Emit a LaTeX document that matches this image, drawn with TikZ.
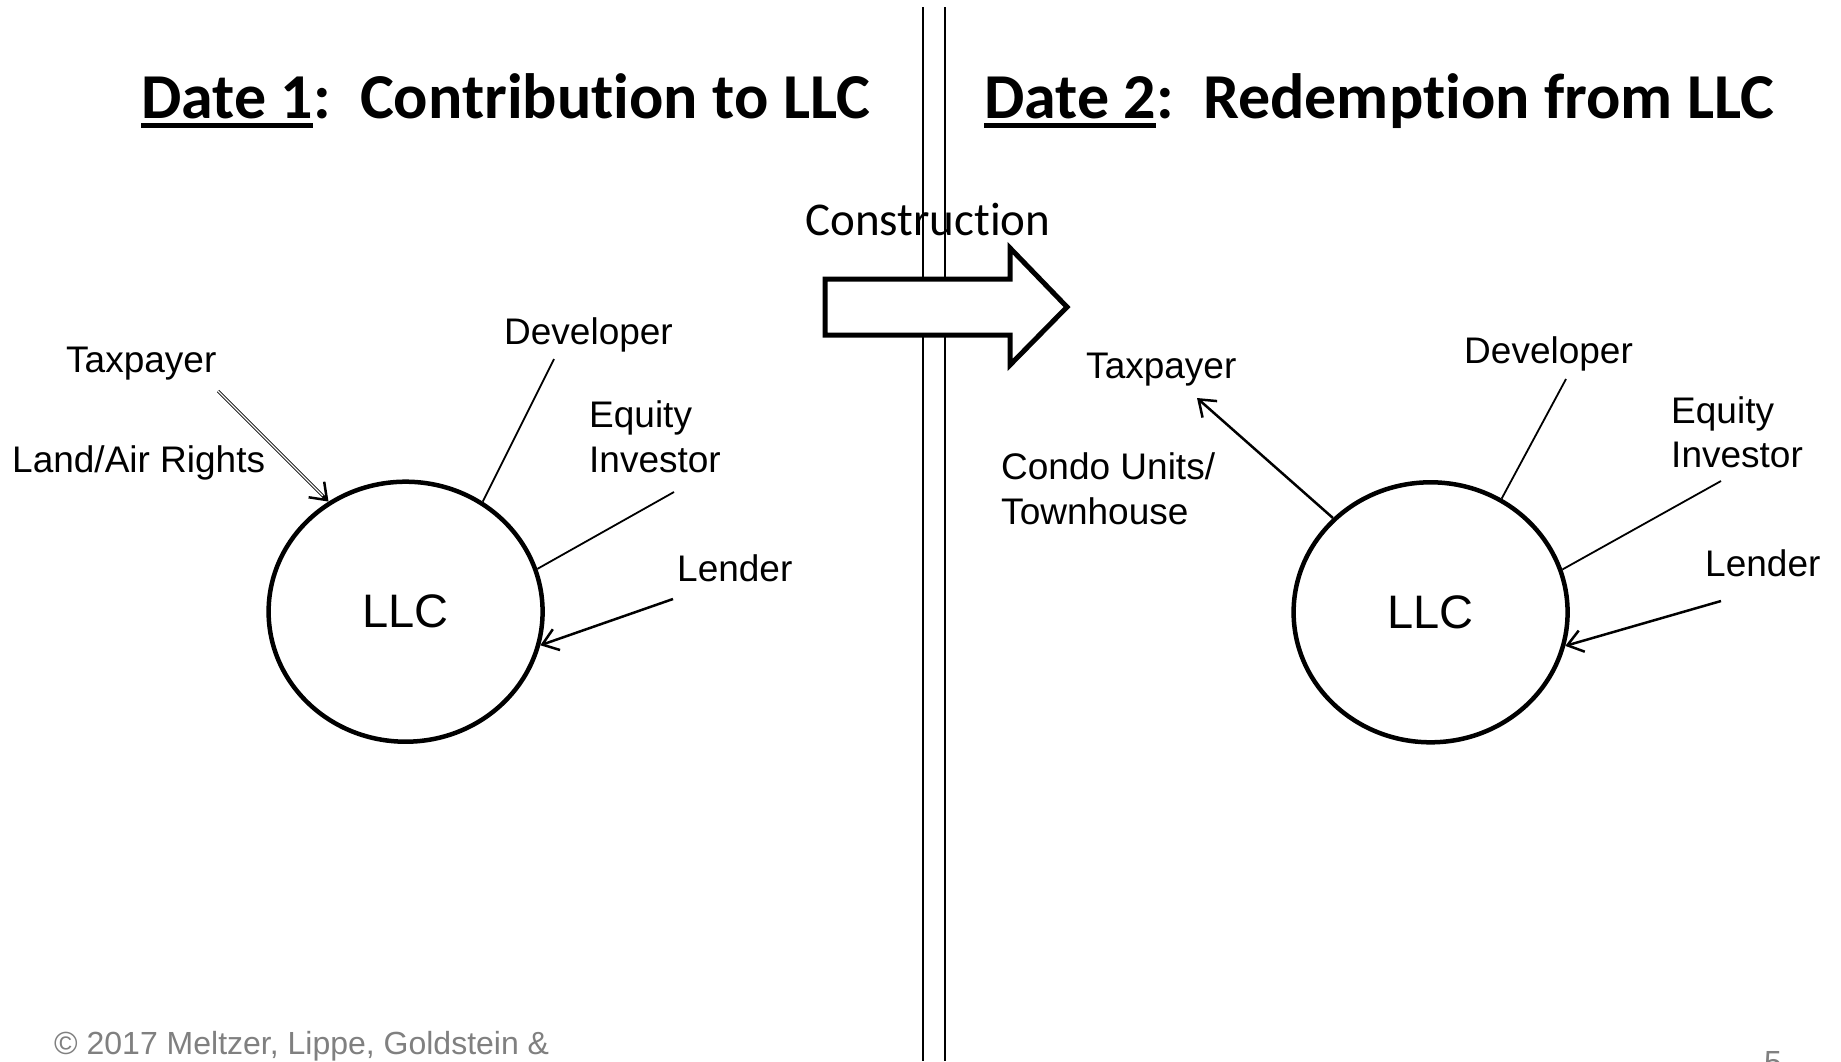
\documentclass[tikz,border=0pt]{standalone}
\usepackage{fontspec}
\setmainfont{Liberation Sans}
\newfontfamily\calfont[Ligatures={NoCommon,NoContextual}]{Carlito}
\usetikzlibrary{shapes.geometric,arrows.meta,calc}
\definecolor{footgray}{RGB}{128,128,128}
\tikzset{
  lbl/.style={anchor=base west, inner sep=0, font=\fontsize{37}{44}\selectfont},
  ttl/.style={anchor=base west, inner sep=0, font=\calfont\bfseries\fontsize{64}{77}\selectfont},
  llc/.style={draw, ellipse, line width=4.5, minimum width=274, minimum height=260, inner sep=0, font=\fontsize{47}{56}\selectfont},
  conn/.style={line width=1.8},
  arr/.style={line width=2.5, -{Straight Barb[length=15pt,width=22pt]}},
  foot/.style={anchor=base west, inner sep=0, text=footgray, font=\fontsize{32}{38}\selectfont},
}
\begin{document}
\begin{tikzpicture}[x=1pt,y=-1pt]
\useasboundingbox (0,0) rectangle (1841,1061);
\clip (0,0) rectangle (1841,1061);
\fill[white] (0,0) rectangle (1841,1061);

% divider
\draw[line width=2.8] (923,7) -- (923,1061);
\draw[line width=2.4] (945,7) -- (945,1061);

% titles
\node[ttl] (t1a) at (141,118) {Date 1};
\node[ttl] (t1b) at (t1a.base east) {:\ \ Contribution to LLC};
\draw[line width=5] ($(t1a.base west)+(0,7)$) -- ($(t1a.base east)+(0,7)$);
\node[ttl] (t2a) at (984,118) {Date 2};
\node[ttl] (t2b) at (t2a.base east) {:\ \ Redemption from LLC};
\draw[line width=5] ($(t2a.base west)+(0,7)$) -- ($(t2a.base east)+(0,7)$);

% block arrow
\draw[line width=5, fill=white, line join=miter]
  (825,279) -- (1010,279) -- (1010,248) -- (1067,307) -- (1010,365) -- (1010,335) -- (825,335) -- cycle;
\node[anchor=base west, inner sep=0, font=\calfont\fontsize{47}{56}\selectfont] (cons) at (805,235) {Construction};

% left panel
\node[lbl] (tp1) at (66,372) {Taxpayer};
\node[lbl] (land) at (12,472) {Land/Air Rights};
\node[lbl] (dev1) at (504,344) {Developer};
\node[lbl] (eq1) at (589,427) {Equity};
\node[lbl] (inv1) at (589,472) {Investor};
\node[lbl] (len1) at (677,581) {Lender};
\node[llc] (c1) at (405.6,611.7) {LLC};
\coordinate (tp1e) at (218,391);
\coordinate (dev1e) at (554,359);
\coordinate (eq1e) at (674,492);
\coordinate (len1e) at (673,599);
\draw[double, double distance=1.2, line width=0.9, shorten >=4] (tp1e) -- (c1.125);
\draw[arr] ($(c1.125)!8pt!(tp1e)$) -- (c1.125);
\draw[conn] (dev1e) -- (c1.55);
\draw[conn] (eq1e) -- (c1.18);
\draw[arr] (len1e) -- (c1.-14);

% right panel
\node[lbl] (tp2) at (1086,378) {Taxpayer};
\node[lbl] (condo) at (1001,479) {Condo Units/};
\node[lbl] (town) at (1001,524) {Townhouse};
\node[lbl] (dev2) at (1464,363) {Developer};
\node[lbl] (eq2) at (1671,423) {Equity};
\node[lbl] (inv2) at (1671,467) {Investor};
\node[lbl] (len2) at (1705,576) {Lender};
\node[llc] (c2) at (1430.6,612.3) {LLC};
\coordinate (tp2e) at (1197,398);
\coordinate (dev2e) at (1566,379);
\coordinate (eq2e) at (1721,481);
\coordinate (len2e) at (1721,601);
\draw[arr] (c2.136) -- (tp2e);
\draw[conn] (dev2e) -- (c2.58);
\draw[conn] (eq2e) -- (c2.18);
\draw[arr] (len2e) -- (c2.-14);

% footer
\node[foot] (copy) at (54,1054) {© 2017 Meltzer, Lippe, Goldstein \&};
\node[foot] (pg) at (1764,1073) {5};
\end{tikzpicture}
\end{document}
